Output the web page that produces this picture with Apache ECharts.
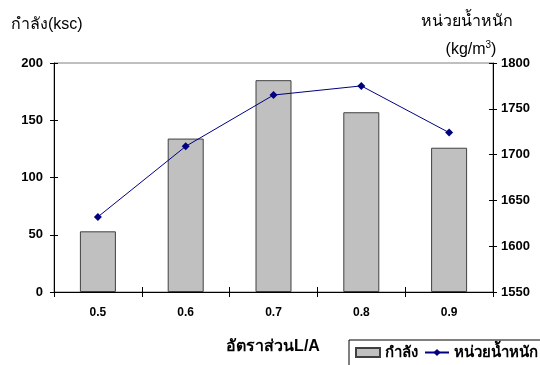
<!DOCTYPE html>
<html>
<head>
<meta charset="utf-8">
<script src="https://cdn.jsdelivr.net/npm/echarts@6/dist/echarts.min.js"></script>
<style>
  html, body { margin: 0; padding: 0; background: #fff; }
  #chart { width: 540px; height: 365px; }
</style>
</head>
<body>
<div id="chart"></div>
<script>
const ratios = ['0.5', '0.6', '0.7', '0.8', '0.9']
const strength = [53, 134, 185, 157, 126]
const unitWeight = [1632, 1709, 1765, 1775, 1724]

const font = 'Liberation Sans, Arial, sans-serif'
const chart = echarts.init(document.getElementById('chart'))

// tick marks that cross the axis line: outside ticks on the real axes, inside ticks on twin axes
const tickStyle = { color: '#000' }

chart.setOption({
  animation: false,
  textStyle: { fontFamily: font },
  grid: {
    left: 54, right: 47, top: 63, bottom: 73,
    show: true, borderColor: '#808080', borderWidth: 1,
  },
  graphic: [
    { type: 'text', x: 11, y: 25, style: { text: 'กำลัง(ksc)', font: '16px ' + font, fill: '#000', verticalAlign: 'middle' } },
    { type: 'text', x: 467, y: 22, style: { text: 'หน่วยน้ำหนัก', font: '16px ' + font, fill: '#000', align: 'center', verticalAlign: 'middle' } },
    {
      type: 'text', x: 471, y: 50,
      style: {
        text: '{a|(kg/m}{s|3}{a|)}', align: 'center', verticalAlign: 'middle',
        rich: {
          a: { font: '16px ' + font, fill: '#000' },
          s: { font: '10px ' + font, fill: '#000', padding: [0, 0, 10, 0] },
        },
      },
    },
    { type: 'text', x: 273, y: 347, style: { text: 'อัตราส่วนL/A', font: 'bold 16px ' + font, fill: '#000', align: 'center', verticalAlign: 'middle' } },
  ],
  legend: {
    left: 349, top: 340, width: 210,
    padding: [5, 8, 6, 6],
    borderColor: '#000', borderWidth: 1,
    itemGap: 6, itemWidth: 24, itemHeight: 9,
    textStyle: { fontFamily: font, fontSize: 15, fontWeight: 'bold', color: '#000' },
    data: [
      { name: 'กำลัง', icon: 'rect' },
      { name: 'หน่วยน้ำหนัก' },
    ],
  },
  xAxis: [{
    type: 'category', data: ratios,
    axisLine: { lineStyle: { color: '#000' } },
    axisTick: { show: true, length: 5, lineStyle: tickStyle },
    axisLabel: { fontSize: 12, fontWeight: 'bold', color: '#000', margin: 15 },
  }, {
    type: 'category', data: ratios, position: 'bottom',
    axisLine: { show: false },
    axisTick: { show: true, inside: true, length: 5, lineStyle: tickStyle },
    axisLabel: { show: false },
  }],
  yAxis: [{
    type: 'value', min: 0, max: 200, interval: 50,
    axisLine: { show: true, lineStyle: { color: '#000' } },
    axisTick: { show: true, length: 4, lineStyle: tickStyle },
    axisLabel: { fontSize: 13, fontWeight: 'bold', color: '#000', margin: 11 },
    splitLine: { show: false },
  }, {
    type: 'value', min: 1550, max: 1800, interval: 50,
    axisLine: { show: true, lineStyle: { color: '#000' } },
    axisTick: { show: true, length: 4, lineStyle: tickStyle },
    axisLabel: { fontSize: 13, fontWeight: 'bold', color: '#000', margin: 8, formatter: v => String(v) },
    splitLine: { show: false },
  }, {
    type: 'value', min: 0, max: 200, interval: 50, position: 'left',
    axisLine: { show: false },
    axisTick: { show: true, inside: true, length: 4, lineStyle: tickStyle },
    axisLabel: { show: false }, splitLine: { show: false },
  }, {
    type: 'value', min: 1550, max: 1800, interval: 50, position: 'right',
    axisLine: { show: false },
    axisTick: { show: true, inside: true, length: 4, lineStyle: tickStyle },
    axisLabel: { show: false }, splitLine: { show: false },
  }],
  series: [{
    name: 'กำลัง', type: 'bar', data: strength, barWidth: '41%',
    itemStyle: { color: '#c0c0c0', borderColor: '#404040', borderWidth: 1 },
  }, {
    name: 'หน่วยน้ำหนัก', type: 'line', yAxisIndex: 1, data: unitWeight,
    symbol: 'diamond', symbolSize: 8,
    lineStyle: { color: '#000080', width: 1 },
    itemStyle: { color: '#000080' },
  }],
})
</script>
</body>
</html>
